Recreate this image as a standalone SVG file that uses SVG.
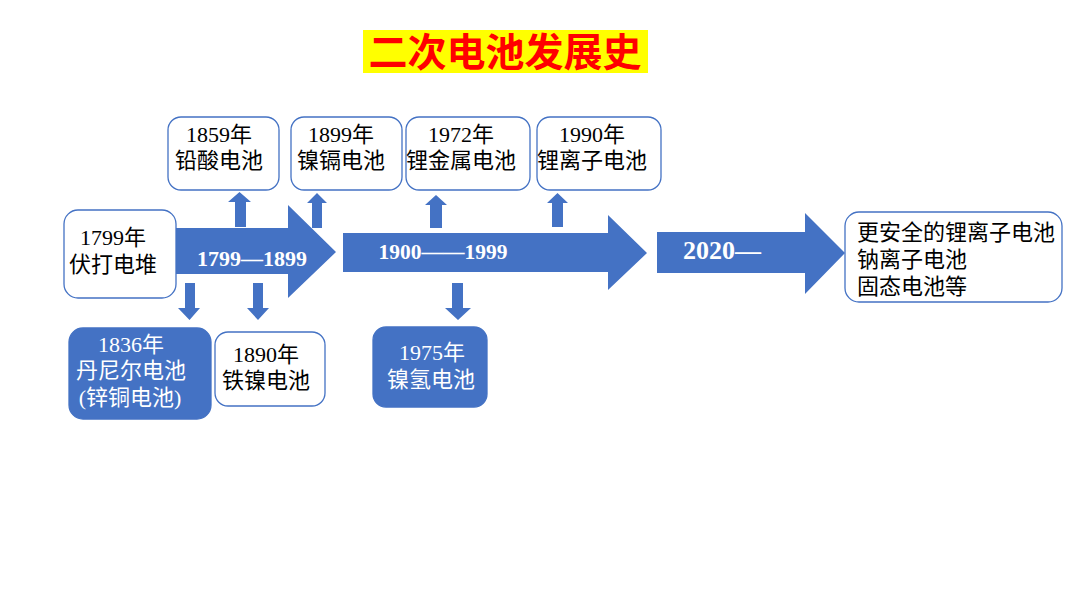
<svg xmlns="http://www.w3.org/2000/svg" width="1080" height="608" viewBox="0 0 1080 608">
<style>
.box{fill:#ffffff;stroke:#4472C4;stroke-width:1.3}
.fbox{fill:#4472C4;stroke:#4472C4;stroke-width:1.3}
.t{font-family:"Liberation Serif","Noto Sans CJK SC",serif;font-size:22px;fill:#000;text-anchor:middle}
.tw{font-family:"Liberation Serif","Noto Sans CJK SC",serif;font-size:22px;fill:#fff;text-anchor:middle}
.lt{font-family:"Liberation Serif","Noto Sans CJK SC",serif;font-size:22px;fill:#000}
.at{font-family:"Liberation Serif",serif;font-weight:bold;fill:#fff}
.blue{fill:#4472C4}
</style>
<rect width="1080" height="608" fill="#ffffff"/>
<g id="title">
<rect x="363" y="30" width="285" height="43" fill="#FFFF00"/>
<text x="505" y="66" font-family="Noto Sans CJK SC,sans-serif" font-size="39" font-weight="bold" fill="#FF0000" text-anchor="middle">二次电池发展史</text>
</g>
<g id="connectors">
<polygon class="blue" points="176,228 288,228 288,205 336,252 288,298 288,274 176,274"/>
<polygon class="blue" points="343,233 608,233 608,215 647,253 608,290 608,272 343,272"/>
<polygon class="blue" points="657,232 805,232 805,213 845,253 805,294 805,273 657,273"/>
<polygon class="blue" points="235,227 235,202 228,202 239.5,192 251,202 246,202 246,227"/>
<polygon class="blue" points="312,228 312,203 307,203 317,193 327,203 322,203 322,228"/>
<polygon class="blue" points="430,228 430,205 425,205 436,195 447,205 442,205 442,228"/>
<polygon class="blue" points="552,227 552,203 547,203 557.5,193 568,203 563,203 563,227"/>
<polygon class="blue" points="185,283 195,283 195,308 200,308 189.5,320 178,308 185,308"/>
<polygon class="blue" points="253,283 263,283 263,308 269,308 258,320 247,308 253,308"/>
<polygon class="blue" points="452,283 463,283 463,308 471,308 458,320 445,308 452,308"/>
<text class="at" x="252" y="266" font-size="22" text-anchor="middle">1799—1899</text>
<text class="at" x="443" y="259" font-size="21.5" text-anchor="middle">1900——1999</text>
<text class="at" x="722" y="259" font-size="26" text-anchor="middle">2020—</text>
</g>
<g id="n1799">
<rect class="box" x="64" y="210" width="112" height="88" rx="14"/>
<text class="t" x="113" y="245">1799年</text>
<text class="t" x="113" y="272">伏打电堆</text>
</g>
<g id="n1859">
<rect class="box" x="168" y="117" width="111" height="73" rx="13"/>
<text class="t" x="219" y="142">1859年</text>
<text class="t" x="219" y="168">铅酸电池</text>
</g>
<g id="n1899">
<rect class="box" x="291" y="117" width="111" height="73" rx="13"/>
<text class="t" x="341" y="142">1899年</text>
<text class="t" x="341" y="168">镍镉电池</text>
</g>
<g id="n1972">
<rect class="box" x="406" y="117" width="124" height="73" rx="13"/>
<text class="t" x="461" y="142">1972年</text>
<text class="t" x="461" y="168">锂金属电池</text>
</g>
<g id="n1990">
<rect class="box" x="537" y="117" width="124" height="73" rx="13"/>
<text class="t" x="592" y="142">1990年</text>
<text class="t" x="592" y="168">锂离子电池</text>
</g>
<g id="n2020">
<rect class="box" x="845" y="212" width="217" height="90" rx="14"/>
<text class="lt" x="857" y="240">更安全的锂离子电池</text>
<text class="lt" x="857" y="267">钠离子电池</text>
<text class="lt" x="857" y="294">固态电池等</text>
</g>
<g id="n1836">
<rect class="fbox" x="69" y="328" width="142" height="91" rx="14"/>
<text class="tw" x="131" y="352">1836年</text>
<text class="tw" x="131" y="378">丹尼尔电池</text>
<text class="tw" x="130" y="405">(锌铜电池)</text>
</g>
<g id="n1890">
<rect class="box" x="215" y="332" width="110" height="74" rx="13"/>
<text class="t" x="266" y="362">1890年</text>
<text class="t" x="266" y="388">铁镍电池</text>
</g>
<g id="n1975">
<rect class="fbox" x="373" y="327" width="114" height="80" rx="13"/>
<text class="tw" x="432" y="360">1975年</text>
<text class="tw" x="431" y="387">镍氢电池</text>
</g>
</svg>
